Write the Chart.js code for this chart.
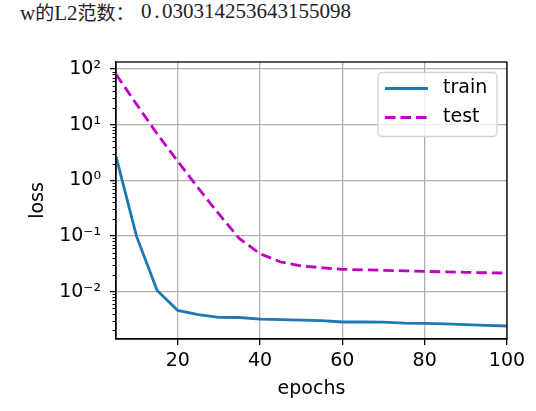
<!DOCTYPE html>
<html lang="zh">
<head>
    <meta charset="UTF-8">
    <title>w的L2范数</title>
    <script src="https://cdn.jsdelivr.net/npm/chart.js"></script>
    <style>
        html, body { margin: 0; padding: 0; background: #fff; }
        body { width: 536px; height: 411px; position: relative; overflow: hidden; }
        .out {
            position: absolute; top: 1px; left: 20px;
            font-family: "Liberation Serif", "Noto Sans CJK SC", serif;
            font-size: 21px; line-height: 21px; color: #222; white-space: pre;
        }
        .cjk { font-family: "Noto Sans CJK SC", sans-serif; font-size: 19px; }
        .num { position: absolute; top: 1px; left: 141px;
            font-family: "Liberation Serif", serif; font-size: 21px; line-height: 21px; color: #222; white-space: pre; }
        .num .dot { display: inline-block; width: 10.5px; text-align: center; }
        #wrap { position: absolute; left: 0; top: 0; width: 536px; height: 411px; }
    </style>
</head>
<body>
    <div class="out">w<span class="cjk">的</span>L2<span class="cjk">范数：</span></div>
    <div class="num" id="normText"></div>
    <div id="wrap"><canvas id="lossChart"></canvas></div>

    <script>
        const normValue = '0.030314253643155098';
        const epochs = [5, 10, 15, 20, 25, 30, 35, 40, 45, 50, 55, 60, 65, 70, 75, 80, 85, 90, 95, 100];
        const trainLoss = [2.7, 0.098, 0.0105, 0.00458, 0.00384, 0.00343, 0.00342, 0.00321, 0.00313, 0.00306,
            0.00300, 0.00284, 0.00284, 0.00283, 0.00272, 0.00268, 0.00262, 0.00254, 0.00247, 0.00241];
        const testLoss = [80, 23.2, 6.8, 2.2, 0.72, 0.248, 0.089, 0.048, 0.034, 0.029,
            0.0268, 0.0251, 0.0246, 0.0241, 0.0236, 0.0231, 0.0226, 0.0222, 0.0218, 0.0215];
        const xTicks = [20, 40, 60, 80, 100];
        const yTicks = [0.01, 0.1, 1, 10, 100];
        const seriesNames = ['train', 'test'];

        // number printed above the plot, dot kept in a full-width cell
        document.getElementById('normText').innerHTML =
            normValue.replace('.', '<span class="dot">.</span>');

        const sup = { '-': '⁻', '0': '⁰', '1': '¹', '2': '²', '3': '³' };
        function powLabel(v) {
            const e = Math.round(Math.log10(v));
            return '10' + String(e).split('').map(c => sup[c]).join('');
        }

        const font = { family: 'DejaVu Sans', size: 19 };

        // full frame + minor log ticks
        const framePlugin = {
            id: 'frame',
            afterDatasetsDraw(chart) {
                const { ctx, chartArea: a } = chart;
                const y = chart.scales.y;
                ctx.save();
                ctx.strokeStyle = '#000';
                ctx.lineWidth = 1;
                for (let n = -3; n <= 2; n++) {
                    for (let k = 2; k <= 9; k++) {
                        const v = k * Math.pow(10, n);
                        if (v < y.min || v > y.max) continue;
                        const py = Math.round(y.getPixelForValue(v)) + 0.5;
                        ctx.beginPath();
                        ctx.moveTo(a.left - 3.5, py);
                        ctx.lineTo(a.left, py);
                        ctx.stroke();
                    }
                }
                ctx.lineWidth = 1.3;
                ctx.strokeRect(a.left, a.top, a.right - a.left, a.bottom - a.top);
                ctx.restore();
            }
        };

        // matplotlib style legend, upper right inside the axes
        const legendPlugin = {
            id: 'mplLegend',
            afterDraw(chart) {
                const { ctx, chartArea: a } = chart;
                const w = 119, h = 64;
                const x0 = a.right - 10 - w, y0 = a.top + 10.5;
                ctx.save();
                ctx.beginPath();
                ctx.roundRect(x0, y0, w, h, 4);
                ctx.fillStyle = 'rgba(255,255,255,0.8)';
                ctx.fill();
                ctx.strokeStyle = '#d4d4d4';
                ctx.lineWidth = 1.3;
                ctx.stroke();
                chart.data.datasets.forEach((ds, i) => {
                    const ly = y0 + 16 + i * 29;
                    ctx.beginPath();
                    ctx.setLineDash(ds.borderDash || []);
                    ctx.strokeStyle = ds.borderColor;
                    ctx.lineWidth = ds.borderWidth;
                    ctx.moveTo(x0 + 7, ly);
                    ctx.lineTo(x0 + 50, ly);
                    ctx.stroke();
                    ctx.setLineDash([]);
                    ctx.fillStyle = '#000';
                    ctx.font = '19px "DejaVu Sans"';
                    ctx.textBaseline = 'middle';
                    ctx.fillText(ds.label, x0 + 65, ly);
                });
                ctx.restore();
            }
        };

        new Chart(document.getElementById('lossChart'), {
            type: 'line',
            data: {
                datasets: [{
                    label: seriesNames[0],
                    data: epochs.map((e, i) => ({ x: e, y: trainLoss[i] })),
                    borderColor: '#1f77b4',
                    borderWidth: 2.8,
                    pointRadius: 0,
                    tension: 0
                }, {
                    label: seriesNames[1],
                    data: epochs.map((e, i) => ({ x: e, y: testLoss[i] })),
                    borderColor: '#bf00bf',
                    borderWidth: 2.8,
                    borderDash: [10.5, 5],
                    pointRadius: 0,
                    tension: 0
                }]
            },
            options: {
                responsive: true,
                maintainAspectRatio: false,
                animation: false,
                events: [],
                layout: { padding: { top: 62, right: 29, left: 0, bottom: 0 } },
                plugins: { legend: { display: false }, tooltip: { enabled: false } },
                scales: {
                    x: {
                        type: 'linear',
                        min: 5,
                        max: 100,
                        afterBuildTicks: s => { s.ticks = xTicks.map(v => ({ value: v })); },
                        afterFit: s => { s.height = 72; },
                        grid: { color: '#b0b0b0', lineWidth: 1.3, tickColor: '#000', tickLength: 6, tickWidth: 1.3 },
                        border: { color: '#000', width: 1.3 },
                        ticks: { color: '#000', font: font, padding: 5, maxRotation: 0 },
                        title: { display: true, text: 'epochs', color: '#000', font: font, padding: { bottom: 10.5 } }
                    },
                    y: {
                        type: 'logarithmic',
                        min: 0.001406,
                        max: 133.6,
                        afterBuildTicks: s => { s.ticks = yTicks.map(v => ({ value: v })); },
                        afterFit: s => { s.width = 116; },
                        grid: { color: '#b0b0b0', lineWidth: 1.3, tickColor: '#000', tickLength: 6, tickWidth: 1.3 },
                        border: { color: '#000', width: 1.3 },
                        ticks: { color: '#000', font: font, padding: 9, callback: v => powLabel(v) },
                        title: { display: true, text: 'loss', color: '#000', font: font, padding: { top: 27 } }
                    }
                }
            },
            plugins: [framePlugin, legendPlugin]
        });
    </script>
</body>
</html>
